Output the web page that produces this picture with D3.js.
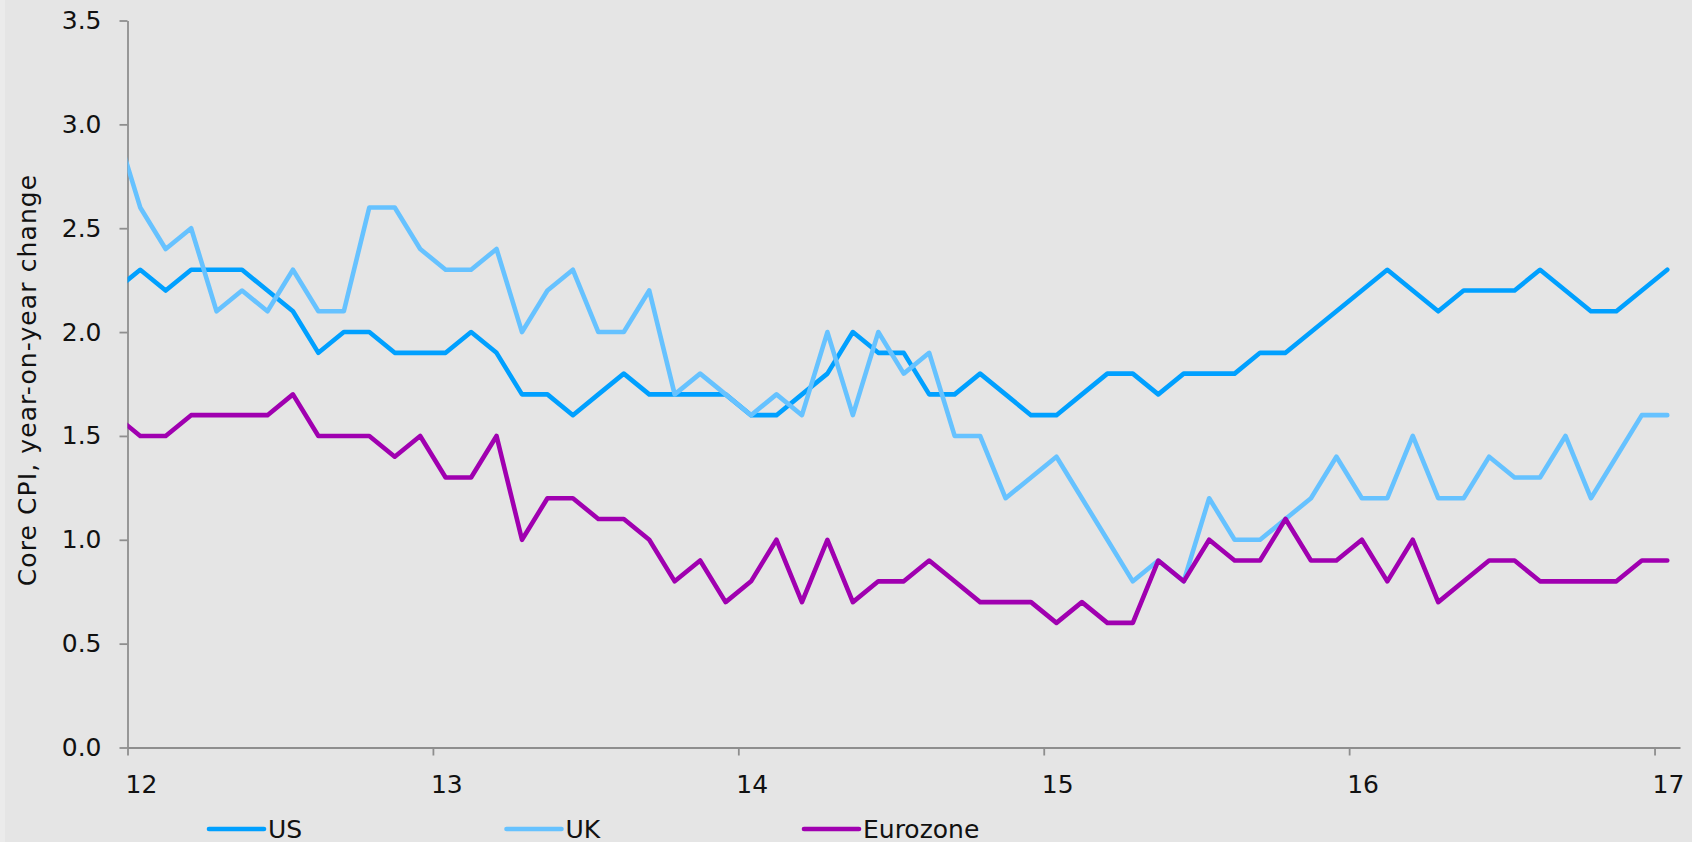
<!DOCTYPE html>
<html>
<head>
<meta charset="utf-8">
<script src="https://cdn.jsdelivr.net/npm/d3@7"></script>
<style>
  html, body { margin: 0; padding: 0; background: #e5e5e5; }
  svg { display: block; font-family: "DejaVu Sans", Verdana, sans-serif; }
</style>
</head>
<body>
<svg id="cpi" width="1692" height="842"></svg>
<script>
// months run from Dec 2011 (-1) to Jan 2017 (60), counted from Jan 2012
var monthStart = -1;

var usValues = [2.2,
    2.3, 2.2, 2.3, 2.3, 2.3, 2.2, 2.1, 1.9, 2.0, 2.0, 1.9, 1.9,
    1.9, 2.0, 1.9, 1.7, 1.7, 1.6, 1.7, 1.8, 1.7, 1.7, 1.7, 1.7,
    1.6, 1.6, 1.7, 1.8, 2.0, 1.9, 1.9, 1.7, 1.7, 1.8, 1.7, 1.6,
    1.6, 1.7, 1.8, 1.8, 1.7, 1.8, 1.8, 1.8, 1.9, 1.9, 2.0, 2.1,
    2.2, 2.3, 2.2, 2.1, 2.2, 2.2, 2.2, 2.3, 2.2, 2.1, 2.1, 2.2,
    2.3];

var ukValues = [3.0,
    2.6, 2.4, 2.5, 2.1, 2.2, 2.1, 2.3, 2.1, 2.1, 2.6, 2.6, 2.4,
    2.3, 2.3, 2.4, 2.0, 2.2, 2.3, 2.0, 2.0, 2.2, 1.7, 1.8, 1.7,
    1.6, 1.7, 1.6, 2.0, 1.6, 2.0, 1.8, 1.9, 1.5, 1.5, 1.2, 1.3,
    1.4, 1.2, 1.0, 0.8, 0.9, 0.8, 1.2, 1.0, 1.0, 1.1, 1.2, 1.4,
    1.2, 1.2, 1.5, 1.2, 1.2, 1.4, 1.3, 1.3, 1.5, 1.2, 1.4, 1.6,
    1.6];

var euroValues = [1.6,
    1.5, 1.5, 1.6, 1.6, 1.6, 1.6, 1.7, 1.5, 1.5, 1.5, 1.4, 1.5,
    1.3, 1.3, 1.5, 1.0, 1.2, 1.2, 1.1, 1.1, 1.0, 0.8, 0.9, 0.7,
    0.8, 1.0, 0.7, 1.0, 0.7, 0.8, 0.8, 0.9, 0.8, 0.7, 0.7, 0.7,
    0.6, 0.7, 0.6, 0.6, 0.9, 0.8, 1.0, 0.9, 0.9, 1.1, 0.9, 0.9,
    1.0, 0.8, 1.0, 0.7, 0.8, 0.9, 0.9, 0.8, 0.8, 0.8, 0.8, 0.9,
    0.9];

var seriesNames = ["US", "UK", "Eurozone"];
var xTickMonths = [0, 12, 24, 36, 48, 60];
var xTickLabels = ["12", "13", "14", "15", "16", "17"];
var yTicks = [0, 0.5, 1.0, 1.5, 2.0, 2.5, 3.0, 3.5];
var yTitle = "Core CPI, year-on-year change";

function cpiChart() {
    var svg = d3.select("#cpi"),
        left = 127.5,
        right = 1680,
        top = 20.5,
        bottom = 747.5,
        axisColor = "#8e8e8e",
        colors = ["#00a0ff", "#66c2ff", "#a000b0"];

    svg.append("rect")
       .attr("width", 1692).attr("height", 842)
       .attr("fill", "#e5e5e5");
    svg.append("rect")
       .attr("width", 5).attr("height", 842)
       .attr("fill", "#ebebeb");

    var x = d3.scaleLinear().domain([0, 61]).range([left, right]),
        y = d3.scaleLinear().domain([0, 3.5]).range([bottom, top]);

    svg.append("defs").append("clipPath")
       .attr("id", "plot-clip")
       .append("rect")
       .attr("x", left).attr("y", 0)
       .attr("width", right - left).attr("height", bottom + 10);

    // y axis
    var yAxis = svg.append("g")
       .attr("transform", "translate(" + left + ",0)")
       .call(d3.axisLeft(y).tickValues(yTicks).tickSize(8).tickSizeOuter(0)
             .tickPadding(18).tickFormat(d3.format(".1f")));
    yAxis.select(".domain").attr("stroke", axisColor).attr("stroke-width", 1.8);
    yAxis.selectAll(".tick line").attr("stroke", axisColor).attr("stroke-width", 1.8);
    yAxis.selectAll(".tick text")
         .attr("font-size", "25px")
         .attr("font-family", "DejaVu Sans, Verdana, sans-serif")
         .attr("fill", "#111");

    // x axis
    var xAxis = svg.append("g")
       .attr("transform", "translate(0," + bottom + ")")
       .call(d3.axisBottom(x).tickValues(xTickMonths).tickSize(8).tickSizeOuter(0)
             .tickFormat(function(d, i) { return xTickLabels[i]; }));
    xAxis.select(".domain").attr("stroke", axisColor).attr("stroke-width", 1.8);
    xAxis.selectAll(".tick line").attr("stroke", axisColor).attr("stroke-width", 1.8);
    xAxis.selectAll(".tick text")
         .attr("font-size", "25px")
         .attr("font-family", "DejaVu Sans, Verdana, sans-serif")
         .attr("fill", "#111")
         .attr("text-anchor", "start")
         .attr("x", -2.5)
         .attr("y", 45.5)
         .attr("dy", null);

    // y title
    svg.append("text")
       .attr("transform", "translate(36,380) rotate(-90)")
       .attr("text-anchor", "middle")
       .attr("font-size", "25px")
       .attr("letter-spacing", "1.1px")
       .attr("fill", "#111")
       .text(yTitle);

    var allSeries = [usValues, ukValues, euroValues];

    var line = d3.line()
        .x(function(d, i) { return x(monthStart + i + 0.5); })
        .y(function(d) { return y(d); });

    svg.append("g")
       .attr("clip-path", "url(#plot-clip)")
       .selectAll(".series")
       .data(allSeries)
       .enter().append("path")
       .attr("class", "series")
       .attr("fill", "none")
       .attr("stroke", function(d, i) { return colors[i]; })
       .attr("stroke-width", 4.6)
       .attr("stroke-linejoin", "round")
       .attr("stroke-linecap", "round")
       .attr("d", line);

    // legend
    var legend = svg.append("g")
       .selectAll(".legend")
       .data(seriesNames)
       .enter().append("g")
       .attr("class", "legend")
       .attr("transform", function(d, i) { return "translate(" + (209 + i * 297.5) + ",829)"; });

    legend.append("line")
          .attr("x1", 0).attr("x2", 55)
          .attr("stroke", function(d, i) { return colors[i]; })
          .attr("stroke-width", 4.6)
          .attr("stroke-linecap", "round");

    legend.append("text")
          .attr("x", 59)
          .attr("y", 8.5)
          .attr("font-size", "25px")
          .attr("fill", "#111")
          .text(function(d) { return d; });
}

cpiChart();
</script>
</body>
</html>
